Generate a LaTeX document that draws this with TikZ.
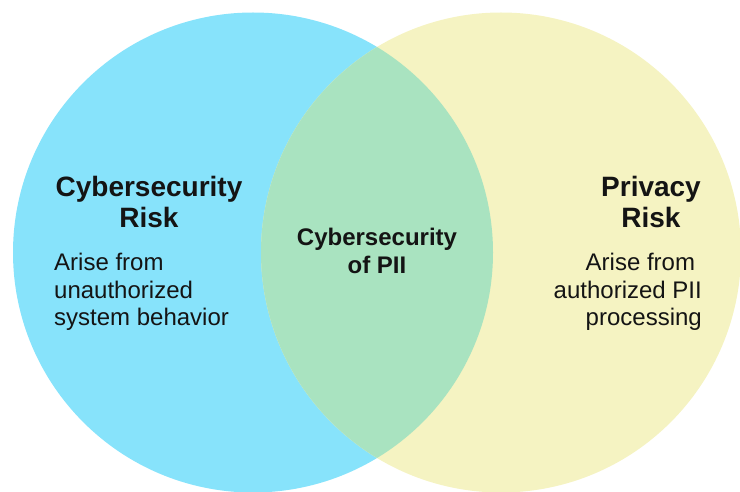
\documentclass[tikz,border=0pt]{standalone}
\usepackage{fontspec}
\setmainfont{Liberation Sans}
\definecolor{cyberblue}{HTML}{87E3FB}
\definecolor{privyellow}{HTML}{F5F3C2}
\definecolor{piigreen}{HTML}{A9E3C0}
\definecolor{textgray}{HTML}{141414}
\begin{document}
\begin{tikzpicture}
[x=1pt, y=-1pt,
 title/.style={font=\fontsize{28}{32}\selectfont\bfseries, align=center},
 middle/.style={font=\fontsize{24}{28}\selectfont\bfseries, align=center},
 every node/.style=
   {inner sep=0pt, anchor=base, text=textgray, font=\fontsize{24}{28}\selectfont}]
\useasboundingbox (0,0) rectangle (740,492);
\coordinate (cyber) at (253,252.5);
\coordinate (privacy) at (501,252.5);
\fill [cyberblue] (cyber) circle (240pt);
\fill [privyellow] (privacy) circle (240pt);
\begin{scope}
  \clip (cyber) circle (240pt);
  \fill [piigreen] (privacy) circle (240pt);
\end{scope}
\node [title] (cybertitle) at (149,228) {Cybersecurity\\Risk};
\node [align=left, anchor=base west] (cybertext) at (54,326)
  {Arise from\\unauthorized\\system behavior};
\node [middle] (piititle) at (377,273) {Cybersecurity\\of PII};
\node [title] (privtitle) at (651,228) {Privacy\\Risk};
\node [align=right, anchor=base east] (privtext) at (702,326)
  {Arise from\hspace*{.28em}\\authorized PII\\processing};
\end{tikzpicture}
\end{document}
